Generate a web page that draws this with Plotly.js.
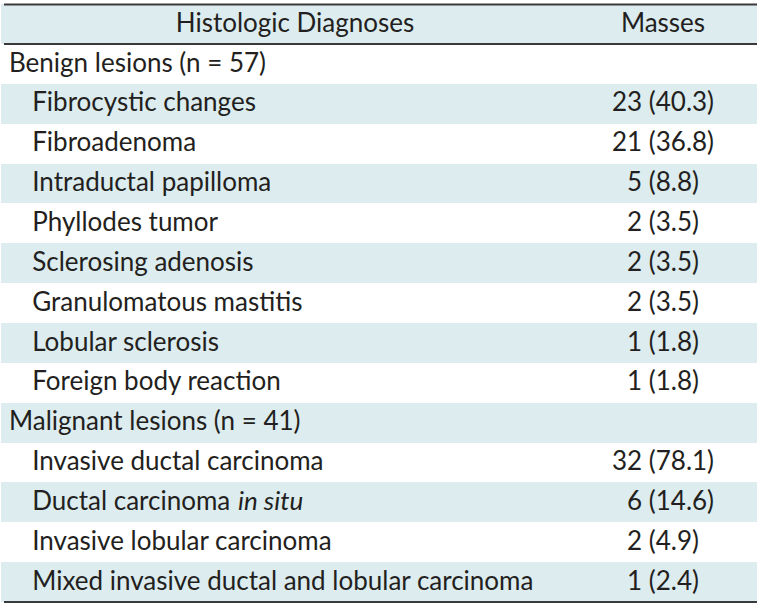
<!DOCTYPE html>
<html>
<head>
<meta charset="utf-8">
<script src="https://cdn.plot.ly/plotly-3.0.1.min.js"></script>
<style>html,body{margin:0;padding:0;background:#fff;}#chart{width:762px;height:608px;}</style>
</head>
<body>
<div id="chart"></div>
<script>
// Table content
const headerLabels = ["Histologic Diagnoses", "Masses"];
const diagnoses = [
  "Benign lesions (n = 57)",
  "Fibrocystic changes",
  "Fibroadenoma",
  "Intraductal papilloma",
  "Phyllodes tumor",
  "Sclerosing adenosis",
  "Granulomatous mastitis",
  "Lobular sclerosis",
  "Foreign body reaction",
  "Malignant lesions (n = 41)",
  "Invasive ductal carcinoma",
  "Ductal carcinoma",
  "Invasive lobular carcinoma",
  "Mixed invasive ductal and lobular carcinoma"
];
// italic suffix shown after a diagnosis (e.g. "in situ")
const italicSuffix = ["", "", "", "", "", "", "", "", "", "", "", "in situ", "", ""];
const isGroup = [true, false, false, false, false, false, false, false, false, true, false, false, false, false];
const counts =   [null, 23, 21, 5, 2, 2, 2, 1, 1, null, 32, 6, 2, 1];
const percents = [null, "40.3", "36.8", "8.8", "3.5", "3.5", "3.5", "1.8", "1.8", null, "78.1", "14.6", "4.9", "2.4"];

// styling
const BAND = "#dcecef";
const TEXT = "#231f20";
const FONT = "Lato";
const FS = 26;
const HEADER_H = 40;
const ROW_H = 39.86;
const FIG = "\u2007"; // figure space (digit width)
const NB = "\u00a0";
const INDENT = NB + NB + NB + "\u2009";

const W = 762, H = 608;
const M = {l: 1, r: 5, t: 4, b: 0};
const plotW = W - M.l - M.r, plotH = H - M.t - M.b;

// non-breaking spaces keep every label on one line
const colA = diagnoses.map((d, i) => (isGroup[i] ? "" : INDENT) + d.replace(/ /g, NB));
const colB = counts.map((c, i) => {
  if (c === null) return "";
  const n = String(c).padStart(2, FIG);
  const p = "(" + percents[i] + ")";
  return n + NB + p.padEnd(6, FIG);
});
const fills = diagnoses.map((d, i) => (i % 2 === 0) ? "#ffffff" : BAND);

const colWidths = [568, 188];

const data = [{
  type: "table",
  domain: {x: [0, 1], y: [0, 1]},
  columnwidth: colWidths,
  header: {
    values: [NB + NB + NB + headerLabels[0].replace(/ /g, NB), headerLabels[1]],
    align: ["center", "center"],
    fill: {color: BAND},
    line: {width: 0, color: BAND},
    font: {family: FONT, size: FS, color: TEXT},
    height: HEADER_H
  },
  cells: {
    values: [colA, colB],
    align: ["left", "center"],
    fill: {color: [fills, fills]},
    line: {width: 0, color: "#ffffff"},
    font: {family: FONT, size: FS, color: TEXT},
    height: ROW_H
  }
}];

const yFromTop = px => 1 - px / plotH;
const tableBottom = HEADER_H + ROW_H * diagnoses.length;
const rule = (yPx) => ({
  type: "line", xref: "paper", yref: "paper",
  x0: 3 / plotW, x1: 1,
  y0: yFromTop(yPx), y1: yFromTop(yPx),
  line: {color: "#3a3a3a", width: 2}
});

const layout = {
  width: W, height: H,
  margin: M,
  paper_bgcolor: "#ffffff",
  font: {family: FONT, color: TEXT},
  shapes: [rule(0.5), rule(HEADER_H), rule(tableBottom)]
};

function spaceWidth() {
  const cv = document.createElement("canvas").getContext("2d");
  cv.font = FS + "px " + FONT;
  return cv.measureText(" ").width;
}

Plotly.newPlot("chart", data, layout, {displayModeBar: false, staticPlot: true}).then(gd => {
  const gRect = gd.getBoundingClientRect();
  const texts = Array.from(gd.querySelectorAll(".cell-text"));
  const anns = [];
  italicSuffix.forEach((suf, i) => {
    if (!suf) return;
    const label = diagnoses[i];
    const el = texts.find(t => t.textContent.replace(/\u00a0/g, " ").trim() === label);
    if (!el) return;
    const r = el.getBoundingClientRect();
    const xPx = r.right - gRect.left + spaceWidth();
    const yPx = (r.top + r.bottom) / 2 - gRect.top;
    anns.push({
      text: "<i>" + suf + "</i>",
      xref: "paper", yref: "paper",
      x: (xPx - M.l) / plotW, y: 1 - (yPx - M.t) / plotH,
      xanchor: "left", yanchor: "middle", showarrow: false,
      borderpad: 0,
      font: {family: FONT, size: FS, color: TEXT}
    });
  });
  if (anns.length) return Plotly.relayout(gd, {annotations: anns});
});
</script>
</body>
</html>
